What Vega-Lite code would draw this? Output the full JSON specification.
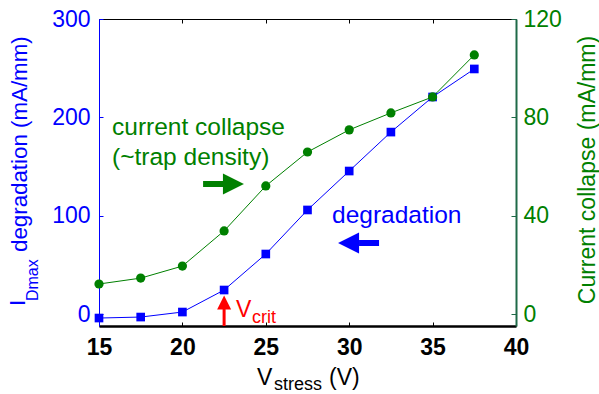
{
  "$schema": "https://vega.github.io/schema/vega-lite/v6.json",
  "width": 417,
  "height": 307,
  "autosize": {"type": "none"},
  "padding": {"left": 99, "top": 19, "right": 83, "bottom": 68},
  "background": "white",
  "config": {"view": {"stroke": null}, "font": "Liberation Sans", "text": {"font": "Liberation Sans"}},
  "datasets": {
    "deg": [
      {"x": 15, "y": -4.1}, {"x": 17.5, "y": -3.1}, {"x": 20, "y": 2.0}, {"x": 22.5, "y": 24.4},
      {"x": 25, "y": 61}, {"x": 27.5, "y": 105.8}, {"x": 30, "y": 145.4}, {"x": 32.5, "y": 185},
      {"x": 35, "y": 220.7}, {"x": 37.5, "y": 249.2}
    ],
    "cc": [
      {"x": 15, "y": 12.2}, {"x": 17.5, "y": 14.6}, {"x": 20, "y": 19.5}, {"x": 22.5, "y": 33.8},
      {"x": 25, "y": 52.1}, {"x": 27.5, "y": 65.9}, {"x": 30, "y": 74.9}, {"x": 32.5, "y": 81.8},
      {"x": 35, "y": 88.3}, {"x": 37.5, "y": 105.4}
    ]
  },
  "layer": [
    {
      "encoding": {
        "x": {"field": "x", "type": "quantitative",
          "scale": {"domain": [15, 40], "nice": false, "zero": false},
          "axis": {"orient": "bottom", "title": null, "values": [15, 20, 25, 30, 35, 40],
            "labelFontSize": 23, "labelFontWeight": "bold", "labelColor": "black",
            "domainColor": "black", "domainWidth": 2.5, "tickColor": "black", "tickSize": -4,
            "tickWidth": 1, "labelPadding": 14, "grid": false, "labelFlush": false}},
        "y": {"field": "y", "type": "quantitative",
          "scale": {"domain": [-12.2, 300], "nice": false, "zero": false},
          "axis": {"orient": "left", "title": null, "values": [0, 100, 200, 300],
            "labelFontSize": 23, "labelColor": "#0000ff", "domainColor": "#0000ff",
            "domainWidth": 1, "tickColor": "#0000ff", "tickSize": -4, "labelPadding": 13,
            "grid": false, "labelFlush": false}}
      },
      "layer": [
        {"data": {"name": "deg"}, "mark": {"type": "line", "color": "#0000ff", "strokeWidth": 1}},
        {"data": {"name": "deg"}, "mark": {"type": "point", "shape": "square", "filled": true, "opacity": 1, "color": "#0000ff", "size": 75}},
        {"data": {"values": [{"x": 21.24, "y": 132.2}, {"x": 22.49, "y": 132.2}]},
         "mark": {"type": "line", "color": "#008000", "strokeWidth": 6, "strokeCap": "butt"}},
        {"data": {"values": [{"x": 23.06, "y": 132.2}]},
         "mark": {"type": "point", "shape": "M-1,-1L1,0L-1,1Z", "filled": true, "opacity": 1, "color": "#008000", "size": 441}},
        {"data": {"values": [{"x": 30.59, "y": 72.2}, {"x": 31.79, "y": 72.2}]},
         "mark": {"type": "line", "color": "#0000ff", "strokeWidth": 6, "strokeCap": "butt"}},
        {"data": {"values": [{"x": 29.96, "y": 72.2}]},
         "mark": {"type": "point", "shape": "M1,-1L-1,0L1,1Z", "filled": true, "opacity": 1, "color": "#0000ff", "size": 441}},
        {"data": {"values": [{"x": 22.5, "y": -12.2}, {"x": 22.5, "y": 9.15}]},
         "mark": {"type": "line", "color": "#ff0000", "strokeWidth": 3, "strokeCap": "butt"}},
        {"data": {"values": [{"x": 22.5, "y": 11.7}]},
         "mark": {"type": "point", "shape": "M0,-1L1,1L-1,1Z", "filled": true, "opacity": 1, "color": "#ff0000", "size": 196}},
        {"data": {"values": [{"x": 15.78, "y": 182.0, "t": "current collapse"}, {"x": 15.78, "y": 151.5, "t": "(~trap density)"}]},
         "mark": {"type": "text", "align": "left", "baseline": "alphabetic", "fontSize": 24.5, "color": "#008000"},
         "encoding": {"text": {"field": "t"}}},
        {"data": {"values": [{"x": 28.97, "y": 92.5, "t": "degradation"}]},
         "mark": {"type": "text", "align": "left", "baseline": "alphabetic", "fontSize": 24.5, "color": "#0000ff"},
         "encoding": {"text": {"field": "t"}}},
        {"data": {"values": [{"x": 23.21, "y": -3.05, "t": "V"}]},
         "mark": {"type": "text", "align": "left", "baseline": "alphabetic", "fontSize": 23, "color": "#ff0000"},
         "encoding": {"text": {"field": "t"}}},
        {"data": {"values": [{"x": 24.17, "y": -9.15, "t": "crit"}]},
         "mark": {"type": "text", "align": "left", "baseline": "alphabetic", "fontSize": 18, "color": "#ff0000"},
         "encoding": {"text": {"field": "t"}}},
        {"data": {"values": [{"x": 10.56, "y": 8.1, "t": "I"}, {"x": 10.68, "y": 63.1, "t": "degradation (mA/mm)"}]},
         "mark": {"type": "text", "align": "left", "baseline": "alphabetic", "fontSize": 22.3, "angle": -90, "color": "#0000ff"},
         "encoding": {"text": {"field": "t"}}},
        {"data": {"values": [{"x": 11.34, "y": 13.2, "t": "Dmax"}]},
         "mark": {"type": "text", "align": "left", "baseline": "alphabetic", "fontSize": 16, "angle": -90, "color": "#0000ff"},
         "encoding": {"text": {"field": "t"}}},
        {"data": {"values": [{"x": 44.74, "y": 146.4, "t": "Current collapse (mA/mm)"}]},
         "mark": {"type": "text", "align": "center", "baseline": "alphabetic", "fontSize": 23, "angle": -90, "color": "#008000"},
         "encoding": {"text": {"field": "t"}}},
        {"data": {"values": [{"x": 24.47, "y": -72.2, "t": "V"}, {"x": 28.79, "y": -72.2, "t": "(V)"}]},
         "mark": {"type": "text", "align": "left", "baseline": "alphabetic", "fontSize": 23, "color": "black"},
         "encoding": {"text": {"field": "t"}}},
        {"data": {"values": [{"x": 25.49, "y": -77.5, "t": "stress"}]},
         "mark": {"type": "text", "align": "left", "baseline": "alphabetic", "fontSize": 18, "color": "black"},
         "encoding": {"text": {"field": "t"}}}
      ]
    },
    {
      "data": {"name": "cc"},
      "encoding": {
        "x": {"field": "x", "type": "quantitative",
          "scale": {"domain": [15, 40], "nice": false, "zero": false},
          "axis": {"orient": "top", "title": null, "values": [15, 20, 25, 30, 35, 40], "labels": false,
            "domainColor": "black", "domainWidth": 1, "tickColor": "black", "tickSize": -4, "grid": false}},
        "y": {"field": "y", "type": "quantitative",
          "scale": {"domain": [-4.88, 120], "nice": false, "zero": false},
          "axis": {"orient": "right", "title": null, "values": [0, 40, 80, 120],
            "labelFontSize": 23, "labelColor": "#008000", "domainColor": "#1f6a48",
            "domainWidth": 2, "tickColor": "#1f6a48", "tickSize": -5, "labelPadding": 12,
            "grid": false, "labelFlush": false}}
      },
      "layer": [
        {"mark": {"type": "line", "color": "#008000", "strokeWidth": 1}},
        {"mark": {"type": "point", "shape": "circle", "filled": true, "opacity": 1, "color": "#008000", "size": 85}}
      ]
    }
  ],
  "resolve": {"scale": {"y": "independent"}, "axis": {"x": "independent", "y": "independent"}}
}
